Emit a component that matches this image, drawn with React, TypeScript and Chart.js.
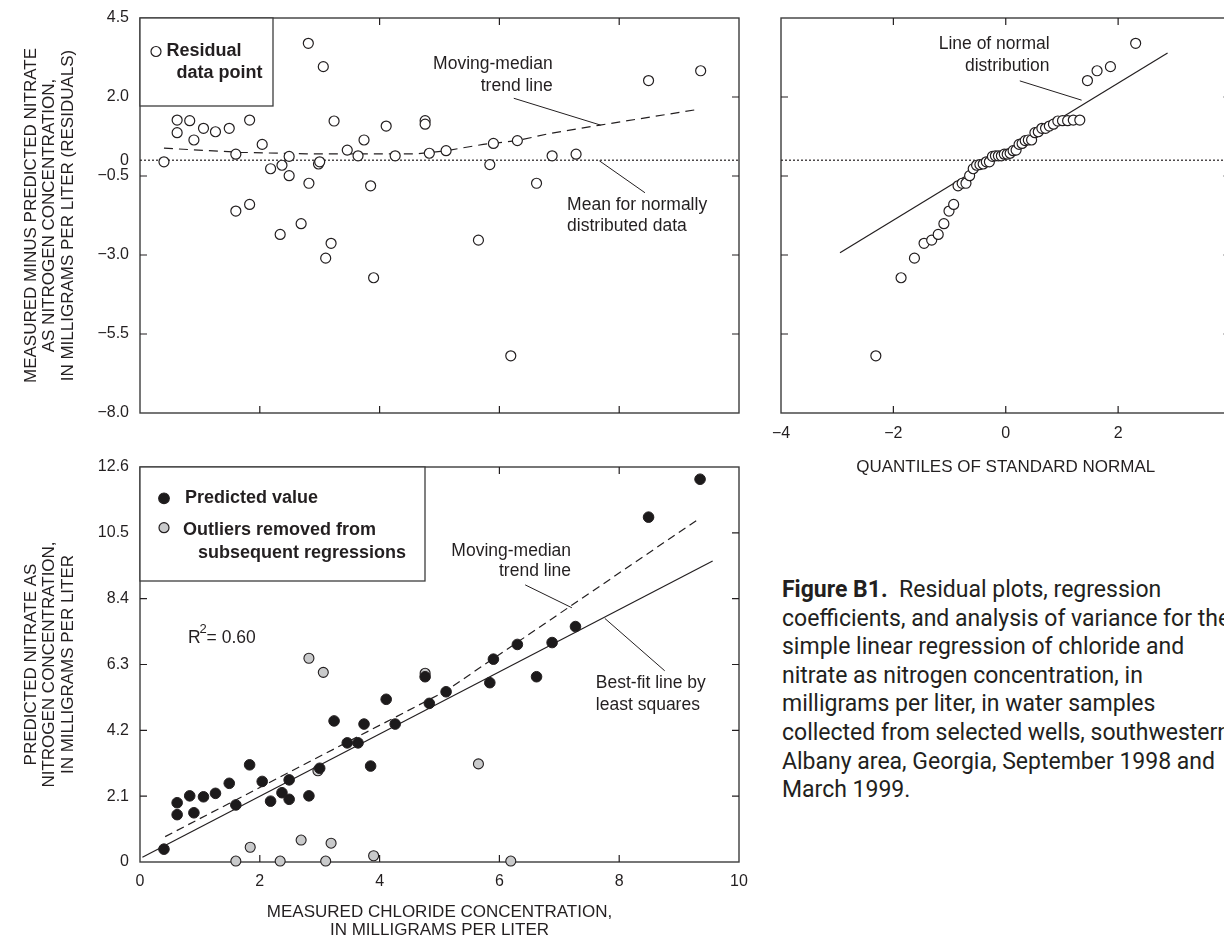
import React, { useEffect, useRef } from "react";
import { Chart, registerables } from "chart.js";

Chart.register(...registerables);

const INK = "#231f20";
const FRAME = "#3d3d3d";
const SANS = "'Liberation Sans', Arial, Helvetica, sans-serif";
const TICK = 7;

// Residuals (measured minus predicted nitrate) against measured chloride, mg/L
const residualChloride = [
  0.4, 0.62, 0.62, 0.83, 0.9, 1.06, 1.26, 1.49, 1.6, 1.6, 1.83, 1.83, 2.04, 2.18, 2.34, 2.37,
  2.49, 2.49, 2.69, 2.81, 2.82, 2.98, 3.0, 3.06, 3.1, 3.19, 3.24, 3.46, 3.64, 3.74, 3.85, 3.9,
  4.11, 4.26, 4.76, 4.76, 4.83, 5.11, 5.65, 5.84, 5.9, 6.19, 6.3, 6.62, 6.88, 7.28, 8.49, 9.36,
];
const residualValues = [
  -0.05, 1.27, 0.87, 1.25, 0.64, 1.01, 0.9, 1.01, 0.19, -1.61, 1.27, -1.4, 0.5, -0.27, -2.35, -0.16,
  0.12, -0.49, -2.01, 3.7, -0.73, -0.12, -0.05, 2.96, -3.1, -2.63, 1.24, 0.32, 0.14, 0.64, -0.81, -3.72,
  1.08, 0.14, 1.25, 1.14, 0.22, 0.3, -2.53, -0.14, 0.53, -6.19, 0.62, -0.73, 0.14, 0.19, 2.52, 2.83,
];

// Moving-median trend through the residuals
const residualTrendX = [0.4, 1.67, 2.78, 4.62, 5.11, 5.73, 6.3, 6.85, 7.68, 9.32];
const residualTrendY = [0.38, 0.25, 0.2, 0.2, 0.3, 0.5, 0.62, 0.85, 1.11, 1.61];

// Normal probability plot: quantiles of standard normal vs ordered residuals
const normalQuantiles = [
  -2.312, -1.863, -1.625, -1.454, -1.318, -1.202, -1.101, -1.01, -0.927, -0.849, -0.776, -0.708,
  -0.643, -0.579, -0.519, -0.46, -0.402, -0.346, -0.291, -0.237, -0.184, -0.131, -0.078, -0.026,
  0.026, 0.078, 0.131, 0.184, 0.237, 0.291, 0.346, 0.402, 0.46, 0.519, 0.579, 0.643,
  0.708, 0.776, 0.849, 0.927, 1.01, 1.101, 1.202, 1.318, 1.454, 1.625, 1.863, 2.312,
];
const orderedResiduals = [
  -6.19, -3.72, -3.1, -2.63, -2.53, -2.35, -2.01, -1.61, -1.4, -0.81, -0.73, -0.73,
  -0.49, -0.27, -0.16, -0.14, -0.12, -0.05, -0.05, 0.12, 0.14, 0.14, 0.14, 0.19,
  0.19, 0.22, 0.3, 0.32, 0.5, 0.53, 0.62, 0.64, 0.64, 0.87, 0.9, 1.01,
  1.01, 1.08, 1.14, 1.24, 1.25, 1.25, 1.27, 1.27, 2.52, 2.83, 2.96, 3.7,
];
const normalLineX = [-2.95, 2.88];
const normalLineY = [-2.93, 3.39];

// Predicted nitrate against measured chloride
const predictedChloride = [
  0.4, 0.62, 0.62, 0.83, 0.9, 1.06, 1.26, 1.49, 1.6, 1.83, 2.04, 2.18, 2.37, 2.49, 2.49, 2.82, 3.0,
  3.24, 3.46, 3.64, 3.74, 3.85, 4.11, 4.26, 4.76, 4.83, 5.11, 5.84, 5.9, 6.3, 6.62, 6.88, 7.27, 8.49, 9.35,
];
const predictedValues = [
  0.41, 1.89, 1.51, 2.11, 1.57, 2.08, 2.19, 2.51, 1.82, 3.1, 2.57, 1.94, 2.21, 2.62, 2.0, 2.11, 2.99,
  4.5, 3.8, 3.8, 4.4, 3.06, 5.19, 4.4, 5.91, 5.06, 5.43, 5.72, 6.47, 6.94, 5.91, 7.0, 7.51, 11.0, 12.21,
];

// Outliers removed from subsequent regressions
const outlierChloride = [1.6, 1.84, 2.34, 2.69, 2.82, 2.97, 3.06, 3.1, 3.19, 3.9, 4.76, 5.65, 6.19];
const outlierValues = [0.03, 0.47, 0.03, 0.7, 6.5, 2.91, 6.05, 0.03, 0.6, 0.2, 6.02, 3.13, 0.03];

// Least-squares line and moving-median trend for predicted values
const bestFitX = [0.04, 9.56];
const bestFitY = [0.15, 9.6];
const medianTrendX = [0.42, 5.1, 9.34];
const medianTrendY = [0.81, 5.45, 10.96];

// Axis tick labels and tick marks
const residualTickLabels = [4.5, 2.0, 0, -0.5, -3.0, -5.5, -8.0];
const residualTickMarks = [2.0, -0.5, -3.0, -5.5];
const chlorideTickLabels = [0, 2, 4, 6, 8, 10];
const chlorideTickMarks = [2, 4, 6, 8];
const nitrateTickLabels = [0, 2.1, 4.2, 6.3, 8.4, 10.5, 12.6];
const nitrateTickMarks = [2.1, 4.2, 6.3, 8.4, 10.5];
const quantileTickLabels = [-4, -2, 0, 2, 4];
const quantileTickMarks = [-2, 0, 2];

const captionLines = [
  "coefficients, and analysis of variance for the",
  "simple linear regression of chloride and",
  "nitrate as nitrogen concentration, in",
  "milligrams per liter, in water samples",
  "collected from selected wells, southwestern",
  "Albany area, Georgia, September 1998 and",
  "March 1999.",
];

const pts = (xs: number[], ys: number[]) => xs.map((x, i) => ({ x, y: ys[i] }));
const minus = (s: string) => s.replace("-", "\u2212");
const fmtOne = (v: number) => (v === 0 ? "0" : minus(v.toFixed(1)));
const fmtInt = (v: number) => minus(String(v));

type Note = { lines: string[]; x: number; y: number; dy: number; align: CanvasTextAlign };
type Spec = {
  xMarks: number[];
  yMarks: number[];
  notes?: Note[];
  leaders?: number[][];
  extra?: (ctx: CanvasRenderingContext2D, chart: any) => void;
};

function framePlugin(spec: Spec) {
  return {
    id: "frame",
    beforeDatasetsDraw(chart: any) {
      const { ctx, chartArea: a } = chart;
      const x = chart.scales.x;
      const y = chart.scales.y;
      ctx.save();
      ctx.strokeStyle = FRAME;
      ctx.lineWidth = 1.4;
      ctx.strokeRect(a.left, a.top, a.right - a.left, a.bottom - a.top);
      ctx.strokeStyle = INK;
      ctx.lineWidth = 1.2;
      ctx.beginPath();
      for (const v of spec.xMarks) {
        const p = x.getPixelForValue(v);
        ctx.moveTo(p, a.bottom);
        ctx.lineTo(p, a.bottom - TICK);
        ctx.moveTo(p, a.top);
        ctx.lineTo(p, a.top + TICK);
      }
      for (const v of spec.yMarks) {
        const p = y.getPixelForValue(v);
        ctx.moveTo(a.left, p);
        ctx.lineTo(a.left + TICK, p);
        ctx.moveTo(a.right, p);
        ctx.lineTo(a.right - TICK, p);
      }
      ctx.stroke();
      ctx.restore();
    },
    afterDatasetsDraw(chart: any) {
      const { ctx } = chart;
      const x = chart.scales.x;
      const y = chart.scales.y;
      ctx.save();
      ctx.strokeStyle = INK;
      ctx.lineWidth = 1;
      for (const [x1, y1, x2, y2] of spec.leaders || []) {
        ctx.beginPath();
        ctx.moveTo(x.getPixelForValue(x1), y.getPixelForValue(y1));
        ctx.lineTo(x.getPixelForValue(x2), y.getPixelForValue(y2));
        ctx.stroke();
      }
      ctx.fillStyle = INK;
      ctx.font = `17.5px ${SANS}`;
      ctx.textBaseline = "middle";
      for (const n of spec.notes || []) {
        ctx.textAlign = n.align;
        const px = x.getPixelForValue(n.x);
        const py = y.getPixelForValue(n.y);
        n.lines.forEach((t, i) => ctx.fillText(t, px, py + i * n.dy));
      }
      if (spec.extra) spec.extra(ctx, chart);
      ctx.restore();
    },
  };
}

function dot(ctx: CanvasRenderingContext2D, cx: number, cy: number, r: number, fill: string) {
  ctx.beginPath();
  ctx.arc(cx, cy, r, 0, Math.PI * 2);
  ctx.fillStyle = fill;
  ctx.fill();
  ctx.strokeStyle = INK;
  ctx.lineWidth = 1.2;
  ctx.stroke();
}

const baseOptions = (padding: any) => ({
  animation: false as const,
  responsive: false,
  maintainAspectRatio: false,
  layout: { padding },
  plugins: { legend: { display: false }, tooltip: { enabled: false } },
  events: [] as any[],
});

const tickFont = { family: SANS, size: 16 };
const titleFont = { family: SANS, size: 17, lineHeight: 1.1 };

function setTicks(values: number[]) {
  return (scale: any) => {
    scale.ticks = values.map((v) => ({ value: v }));
  };
}

const hollow = {
  pointRadius: 5,
  pointBackgroundColor: "#ffffff",
  pointBorderColor: INK,
  pointBorderWidth: 1.2,
  showLine: false,
  order: 0,
};

const lineStyle = (dash: number[], order: number) => ({
  showLine: true,
  pointRadius: 0,
  borderColor: INK,
  borderWidth: 1.2,
  borderDash: dash,
  fill: false,
  order,
});

function residualConfig(): any {
  return {
    type: "scatter",
    data: {
      datasets: [
        { label: "Residual data point", data: pts(residualChloride, residualValues), ...hollow },
        { label: "Moving-median trend line", data: pts(residualTrendX, residualTrendY), ...lineStyle([9, 6], 1) },
        { label: "Mean", data: pts([0, 10], [0, 0]), ...lineStyle([2, 2], 2) },
      ],
    },
    options: {
      ...baseOptions({ left: 0, top: 18, right: 21, bottom: 0 }),
      scales: {
        x: {
          type: "linear",
          min: 0,
          max: 10,
          grid: { display: false },
          border: { display: false },
          ticks: { display: false },
          afterFit: (s: any) => {
            s.height = 27;
          },
        },
        y: {
          type: "linear",
          min: -8,
          max: 4.5,
          afterBuildTicks: setTicks(residualTickLabels),
          grid: { display: false },
          border: { display: false },
          ticks: { autoSkip: false, font: tickFont, color: INK, padding: 3, callback: (v: number) => fmtOne(v) },
          title: {
            display: true,
            text: [
              "MEASURED MINUS PREDICTED NITRATE",
              "AS NITROGEN CONCENTRATION,",
              "IN MILLIGRAMS PER LITER (RESIDUALS)",
            ],
            font: titleFont,
            color: INK,
            padding: { top: 21.5, bottom: 0 },
          },
          afterFit: (s: any) => {
            s.width = 140;
          },
        },
      },
    },
    plugins: [
      framePlugin({
        xMarks: chlorideTickMarks,
        yMarks: residualTickMarks,
        notes: [
          { lines: ["Moving-median", "trend line"], x: 6.89, y: 3.04, dy: 22, align: "right" },
          { lines: ["Mean for normally", "distributed data"], x: 7.13, y: -1.42, dy: 21, align: "left" },
        ],
        leaders: [
          [6.24, 1.96, 7.69, 1.11],
          [7.67, -0.02, 8.43, -1.03],
        ],
        extra: (ctx, chart) => {
          const a = chart.chartArea;
          ctx.fillStyle = "#ffffff";
          ctx.fillRect(a.left, a.top, 133, 88);
          ctx.strokeStyle = FRAME;
          ctx.lineWidth = 1.3;
          ctx.strokeRect(a.left, a.top, 133, 88);
          dot(ctx, a.left + 16, a.top + 33.5, 5, "#ffffff");
          ctx.fillStyle = INK;
          ctx.font = `bold 18px ${SANS}`;
          ctx.textAlign = "left";
          ctx.textBaseline = "middle";
          ctx.fillText("Residual", a.left + 26.5, a.top + 33);
          ctx.fillText("data point", a.left + 36.5, a.top + 55);
        },
      }),
    ],
  };
}

function normalConfig(): any {
  return {
    type: "scatter",
    data: {
      datasets: [
        { label: "Ordered residuals", data: pts(normalQuantiles, orderedResiduals), ...hollow },
        { label: "Line of normal distribution", data: pts(normalLineX, normalLineY), ...lineStyle([], 1) },
        { label: "Mean", data: pts([-4, 4], [0, 0]), ...lineStyle([2, 2], 2) },
      ],
    },
    options: {
      ...baseOptions({ left: 0, top: 18, right: 29.5, bottom: 0 }),
      scales: {
        x: {
          type: "linear",
          min: -4,
          max: 4,
          afterBuildTicks: setTicks(quantileTickLabels),
          grid: { display: false },
          border: { display: false },
          ticks: { autoSkip: false, maxRotation: 0, font: tickFont, color: INK, padding: 3, callback: (v: number) => fmtInt(v) },
          title: {
            display: true,
            text: "QUANTILES OF STANDARD NORMAL",
            font: titleFont,
            color: INK,
            padding: { top: 0, bottom: 13.5 },
          },
          afterFit: (s: any) => {
            s.height = 77;
          },
        },
        y: {
          type: "linear",
          min: -8,
          max: 4.5,
          grid: { display: false },
          border: { display: false },
          ticks: { display: false },
          afterFit: (s: any) => {
            s.width = 21;
          },
        },
      },
    },
    plugins: [
      framePlugin({
        xMarks: quantileTickMarks,
        yMarks: residualTickMarks,
        notes: [{ lines: ["Line of normal", "distribution"], x: 0.78, y: 3.67, dy: 22, align: "right" }],
        leaders: [[0.25, 2.51, 1.35, 1.9]],
      }),
    ],
  };
}

function predictedConfig(): any {
  return {
    type: "scatter",
    data: {
      datasets: [
        {
          label: "Predicted value",
          data: pts(predictedChloride, predictedValues),
          pointRadius: 5.3,
          pointBackgroundColor: "#1c1a1b",
          pointBorderColor: INK,
          pointBorderWidth: 1,
          order: 0,
          clip: false,
        },
        {
          label: "Outliers removed from subsequent regressions",
          data: pts(outlierChloride, outlierValues),
          pointRadius: 5,
          pointBackgroundColor: "#c9cacb",
          pointBorderColor: INK,
          pointBorderWidth: 1.1,
          order: 1,
          clip: false,
        },
        { label: "Moving-median trend line", data: pts(medianTrendX, medianTrendY), ...lineStyle([8, 5], 2) },
        { label: "Best-fit line by least squares", data: pts(bestFitX, bestFitY), ...lineStyle([], 3) },
      ],
    },
    options: {
      ...baseOptions({ left: 0, top: 27, right: 21, bottom: 0 }),
      scales: {
        x: {
          type: "linear",
          min: 0,
          max: 10,
          afterBuildTicks: setTicks(chlorideTickLabels),
          grid: { display: false },
          border: { display: false },
          ticks: { autoSkip: false, maxRotation: 0, font: tickFont, color: INK, padding: 2, callback: (v: number) => fmtInt(v) },
          title: {
            display: true,
            text: ["MEASURED CHLORIDE CONCENTRATION,", "IN MILLIGRAMS PER LITER"],
            font: titleFont,
            color: INK,
            padding: { top: 0, bottom: 2 },
          },
          afterFit: (s: any) => {
            s.height = 80;
          },
        },
        y: {
          type: "linear",
          min: 0,
          max: 12.6,
          afterBuildTicks: setTicks(nitrateTickLabels),
          grid: { display: false },
          border: { display: false },
          ticks: { autoSkip: false, font: tickFont, color: INK, padding: 3, callback: (v: number) => fmtOne(v) },
          title: {
            display: true,
            text: ["PREDICTED NITRATE AS", "NITROGEN CONCENTRATION,", "IN MILLIGRAMS PER LITER"],
            font: titleFont,
            color: INK,
            padding: { top: 21.5, bottom: 0 },
          },
          afterFit: (s: any) => {
            s.width = 140;
          },
        },
      },
    },
    plugins: [
      framePlugin({
        xMarks: chlorideTickMarks,
        yMarks: nitrateTickMarks,
        notes: [
          { lines: ["Moving-median", "trend line"], x: 7.195, y: 9.9, dy: 20, align: "right" },
          { lines: ["Best-fit line by", "least squares"], x: 7.61, y: 5.7, dy: 22, align: "left" },
        ],
        leaders: [
          [6.43, 8.84, 7.21, 8.11],
          [7.76, 7.77, 8.76, 6.1],
        ],
        extra: (ctx, chart) => {
          const a = chart.chartArea;
          const x = chart.scales.x;
          const y = chart.scales.y;
          ctx.fillStyle = "#ffffff";
          ctx.fillRect(a.left, a.top, 285, 114);
          ctx.strokeStyle = FRAME;
          ctx.lineWidth = 1.3;
          ctx.strokeRect(a.left, a.top, 285, 114);
          dot(ctx, a.left + 24, a.top + 31.3, 5.3, "#1c1a1b");
          dot(ctx, a.left + 24, a.top + 60.7, 5, "#c9cacb");
          ctx.fillStyle = INK;
          ctx.font = `bold 18px ${SANS}`;
          ctx.textAlign = "left";
          ctx.textBaseline = "middle";
          ctx.fillText("Predicted value", a.left + 45, a.top + 31);
          ctx.fillText("Outliers removed from", a.left + 43, a.top + 63);
          ctx.fillText("subsequent regressions", a.left + 58, a.top + 86);
          // coefficient of determination
          const rx = x.getPixelForValue(0.8);
          const ry = y.getPixelForValue(7.15);
          ctx.font = `17.5px ${SANS}`;
          ctx.fillText("R", rx, ry);
          ctx.font = `13px ${SANS}`;
          ctx.fillText("2", rx + 11.5, ry - 8);
          ctx.font = `17.5px ${SANS}`;
          ctx.fillText("= 0.60", rx + 18.7, ry);
        },
      }),
    ],
  };
}

function useChart(build: () => any) {
  const ref = useRef<HTMLCanvasElement | null>(null);
  useEffect(() => {
    if (!ref.current) return;
    const chart = new Chart(ref.current, build());
    return () => chart.destroy();
  }, []);
  return ref;
}

export default function App() {
  const residualRef = useChart(residualConfig);
  const normalRef = useChart(normalConfig);
  const predictedRef = useChart(predictedConfig);

  return (
    <div
      style={{
        position: "fixed",
        left: 0,
        top: 0,
        width: 1224,
        height: 942,
        overflow: "hidden",
        background: "#ffffff",
      }}
    >
      <canvas ref={residualRef} width={760} height={440} style={{ position: "absolute", left: 0, top: 0 }} />
      <canvas ref={normalRef} width={500} height={490} style={{ position: "absolute", left: 760, top: 0 }} />
      <canvas ref={predictedRef} width={760} height={502} style={{ position: "absolute", left: 0, top: 440 }} />
      <div
        style={{
          position: "absolute",
          left: 782,
          top: 576,
          fontFamily: "Roboto, 'Noto Sans', sans-serif",
          fontSize: 23,
          lineHeight: "28.6px",
          color: INK,
          whiteSpace: "nowrap",
        }}
      >
        <div>
          <b>Figure B1.</b>
          {"\u00a0 Residual plots, regression"}
        </div>
        {captionLines.map((t) => (
          <div key={t}>{t}</div>
        ))}
      </div>
    </div>
  );
}
